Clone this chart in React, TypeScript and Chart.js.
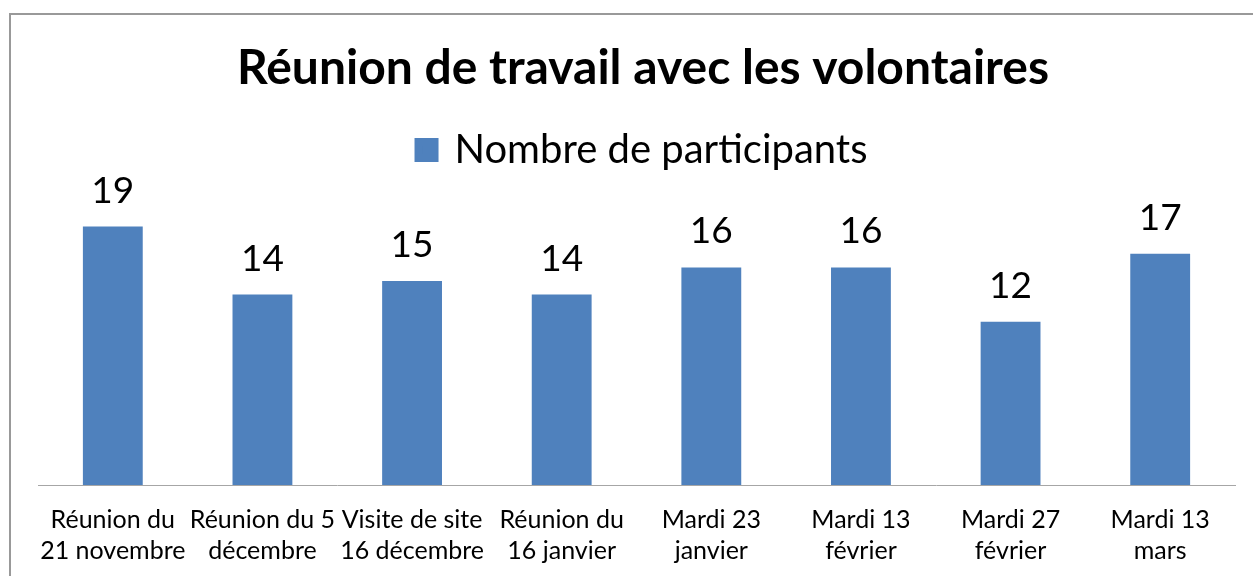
import React, { useEffect, useRef } from "react";
import { Chart, registerables } from "chart.js";

Chart.register(...registerables);

const TITLE = "Réunion de travail avec les volontaires";
const SERIES_NAME = "Nombre de participants";
const CATEGORIES: string[][] = [
  ["Réunion du", "21 novembre"],
  ["Réunion du 5", "décembre"],
  ["Visite de site", "16 décembre"],
  ["Réunion du", "16 janvier"],
  ["Mardi 23", "janvier"],
  ["Mardi 13", "février"],
  ["Mardi 27", "février"],
  ["Mardi 13", "mars"],
];
const PARTICIPANTS: number[] = [19, 14, 15, 14, 16, 16, 12, 17];

const FONT = "Lato, 'Open Sans', sans-serif";
const BAR_COLOR = "#4f81bd";

const dataLabelPlugin = {
  id: "dataLabels",
  afterDatasetsDraw(chart: any) {
    const ctx = chart.ctx;
    const meta = chart.getDatasetMeta(0);
    ctx.save();
    ctx.font = `37px ${FONT}`;
    ctx.fillStyle = "#000";
    ctx.textAlign = "center";
    ctx.textBaseline = "alphabetic";
    meta.data.forEach((bar: any, i: number) => {
      ctx.fillText(String(PARTICIPANTS[i]), bar.x, bar.y - 24);
    });
    ctx.restore();
  },
};

const legendSpacePlugin = {
  id: "legendSpace",
  beforeInit(chart: any) {
    const legend = chart.legend;
    if (!legend) return;
    const originalFit = legend.fit;
    legend.fit = function fit() {
      originalFit.bind(legend)();
      this.height += 33;
    };
  },
};

export default function App() {
  const canvasRef = useRef<HTMLCanvasElement | null>(null);

  useEffect(() => {
    if (!canvasRef.current) return;
    const chart = new Chart(canvasRef.current, {
      type: "bar",
      data: {
        labels: CATEGORIES,
        datasets: [
          {
            label: SERIES_NAME,
            data: PARTICIPANTS,
            backgroundColor: BAR_COLOR,
            borderWidth: 0,
            barPercentage: 0.4,
            categoryPercentage: 1.0,
          },
        ],
      },
      options: {
        animation: false,
        responsive: false,
        maintainAspectRatio: false,
        layout: { padding: { left: 25, right: -8, top: 0, bottom: 0 } },
        plugins: {
          title: {
            display: true,
            text: TITLE,
            color: "#000",
            font: { family: FONT, size: 48, weight: "bold", lineHeight: 1.2 },
            padding: { top: 40, bottom: 22.4 },
          },
          legend: {
            display: true,
            position: "top",
            labels: {
              color: "#000",
              font: { family: FONT, size: 40 },
              boxWidth: 16,
              boxHeight: 16,
              padding: 10,
              generateLabels(chart: any) {
                const items = Chart.defaults.plugins.legend.labels.generateLabels(chart);
                return items.map((it: any) => ({
                  ...it,
                  fillStyle: BAR_COLOR,
                  strokeStyle: BAR_COLOR,
                  lineWidth: 8,
                }));
              },
            },
          },
          tooltip: { enabled: false },
        },
        scales: {
          x: {
            grid: { display: false, drawTicks: false, tickLength: 0 },
            border: { display: true, color: "#a6a6a6", width: 1 },
            ticks: {
              color: "#000",
              font: { family: FONT, size: 25, lineHeight: 1.24 },
              padding: 19.5,
              maxRotation: 0,
              minRotation: 0,
              autoSkip: false,
            },
            afterFit(scale: any) {
              scale.height = 91;
              scale.paddingLeft = 38;
              scale.paddingRight = 18;
            },
          },
          y: {
            display: false,
            min: 0,
            max: 20,
          },
        },
      },
      plugins: [dataLabelPlugin, legendSpacePlugin],
    });
    return () => chart.destroy();
  }, []);

  return (
    <div
      style={{
        position: "fixed",
        left: 0,
        top: 0,
        width: 1253,
        height: 576,
        overflow: "hidden",
        background: "#fff",
      }}
    >
      <div
        style={{
          position: "absolute",
          left: 9,
          top: 13,
          width: 1400,
          height: 700,
          borderLeft: "2px solid #999",
          borderTop: "2px solid #999",
        }}
      />
      <canvas
        ref={canvasRef}
        width={1253}
        height={576}
        style={{ position: "absolute", left: 0, top: 0, width: 1253, height: 576 }}
      />
    </div>
  );
}
